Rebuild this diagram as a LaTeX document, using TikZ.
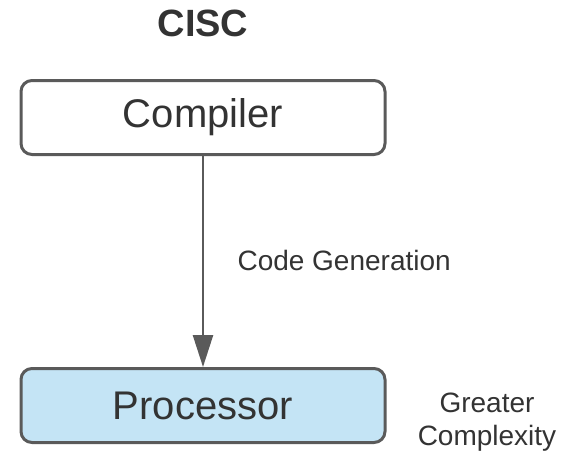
\documentclass[tikz,border=0pt]{standalone}
\usepackage{fontspec}
\setmainfont{Liberation Sans}
\usetikzlibrary{arrows.meta}
\definecolor{edge}{HTML}{5A5A5A}
\definecolor{txt}{HTML}{333333}
\definecolor{procfill}{HTML}{C4E4F5}
\begin{document}
\begin{tikzpicture}[x=1pt,y=-1pt,
  box/.style={draw=edge,line width=3pt,rounded corners=11pt,inner sep=0pt,minimum width=364pt,minimum height=74pt,text=txt,font=\fontsize{40}{45}\selectfont},
  lbl/.style={text=txt,font=\fontsize{28}{33}\selectfont,align=center},
  conn/.style={draw=edge,line width=2.5pt,-{Triangle[length=32pt,width=20pt]}}]
\useasboundingbox (0,0) rectangle (582,451);
\node[text=txt,font=\fontsize{38}{42}\selectfont\bfseries] (title) at (203,23.5) {CISC};
\node[box] (comp) at (203,117.5) {Compiler};
\node[box,fill=procfill] (proc) at (203,405.5) {Processor};
\draw[conn] (comp) -- (proc);
\node[lbl,anchor=west] (code) at (234,260) {Code Generation};
\node[lbl] (gc) at (487,422) {Greater\\Complexity};
\end{tikzpicture}
\end{document}
